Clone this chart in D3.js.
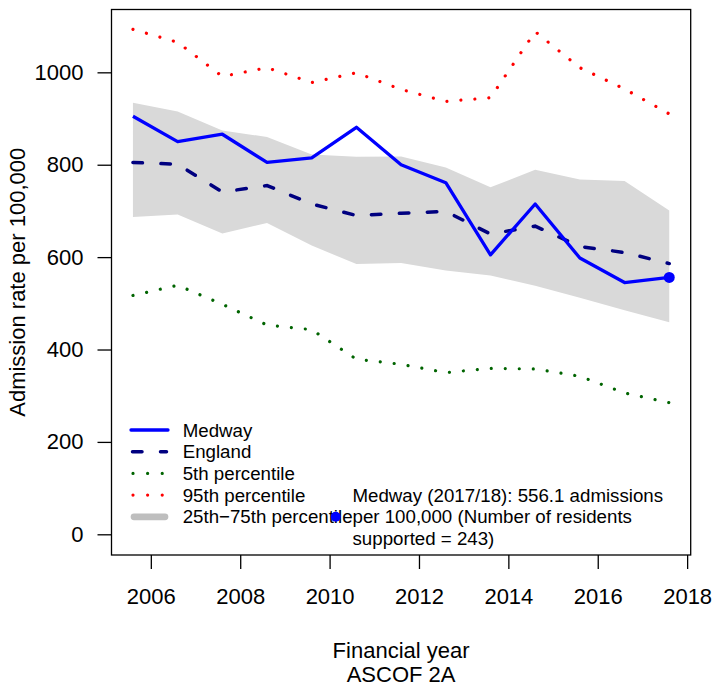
<!DOCTYPE html>
<html>
<head>
<meta charset="utf-8">
<script src="https://d3js.org/d3.v7.min.js"></script>
<style>
  body { margin: 0; background: #fff; }
  svg text { font-family: "Liberation Sans", Arial, sans-serif; fill: #000; }
</style>
</head>
<body>
<div id="chart"></div>
<script>
// financial years, plotted part way through the year
var years = [2005.6, 2006.6, 2007.6, 2008.6, 2009.6, 2010.6, 2011.6,
             2012.6, 2013.6, 2014.6, 2015.6, 2016.6, 2017.6];
var medway = [905, 850, 866, 805, 815, 881, 800, 761, 605, 715, 598, 545, 556.1];
var england = [805, 801, 741, 755, 715, 690, 695, 699, 650, 667, 623, 610, 586];
var p5 = [517, 539, 498, 453, 443, 379, 368, 350, 359, 358, 342, 306, 285];
var p95 = [1093, 1065, 991, 1010, 978, 999, 963, 937, 945, 1088, 1010, 964, 910];
var p25 = [687, 692, 651, 674, 625, 585, 587, 571, 560, 538, 512, 485, 459];
var p75 = [934, 915, 874, 860, 822, 817, 818, 794, 751, 789, 768, 765, 701];

var xTicks = [2006, 2008, 2010, 2012, 2014, 2016, 2018];
var yTicks = [0, 200, 400, 600, 800, 1000];

var legendLabels = ["Medway", "England", "5th percentile", "95th percentile", "25th\u221275th percentile"];
var noteLines = ["Medway (2017/18): 556.1 admissions",
                 "per 100,000 (Number of residents",
                 "supported = 243)"];

var width = 713, height = 690;
var plot = {left: 111.5, right: 690.7, top: 9.5, bottom: 555};

var svg = d3.select("#chart").append("svg")
    .attr("width", width)
    .attr("height", height);

var x = d3.scaleLinear()
    .domain([2005.12, 2018.08])
    .range([plot.left, plot.right]);

var y = d3.scaleLinear()
    .domain([-44.8, 1136])
    .range([plot.bottom, plot.top]);

function rows(vals) {
  return years.map(function(yr, i) { return {year: yr, v: vals[i]}; });
}

var line = d3.line()
    .x(function(d) { return x(d.year); })
    .y(function(d) { return y(d.v); });

// 25th-75th band
var band = d3.area()
    .x(function(d, i) { return x(years[i]); })
    .y0(function(d, i) { return y(p25[i]); })
    .y1(function(d, i) { return y(p75[i]); });

svg.append("path")
    .datum(years)
    .attr("d", band)
    .attr("fill", "#d9d9d9");

function dotted(vals, col) {
  svg.append("path")
      .datum(rows(vals))
      .attr("d", line)
      .attr("fill", "none")
      .attr("stroke", col)
      .attr("stroke-width", 3.2)
      .attr("stroke-linecap", "round")
      .attr("stroke-dasharray", "0.01,14");
}
dotted(p95, "#ff0000");
dotted(p5, "#006400");

svg.append("path")
    .datum(rows(england))
    .attr("d", line)
    .attr("fill", "none")
    .attr("stroke", "#000080")
    .attr("stroke-width", 3.5)
    .attr("stroke-linecap", "round")
    .attr("stroke-dasharray", "9.5,18.5");

svg.append("path")
    .datum(rows(medway))
    .attr("d", line)
    .attr("fill", "none")
    .attr("stroke", "#0000ff")
    .attr("stroke-width", 3.3)
    .attr("stroke-linejoin", "round");

var last = years.length - 1;
svg.append("circle")
    .attr("cx", x(years[last]))
    .attr("cy", y(medway[last]))
    .attr("r", 5.5)
    .attr("fill", "#0000ff");

// axes
var yAxis = svg.append("g")
    .attr("transform", "translate(" + plot.left + ",0)")
    .call(d3.axisLeft(y).tickValues(yTicks).tickFormat(d3.format("d")).tickSize(14).tickPadding(14));

var xAxis = svg.append("g")
    .attr("transform", "translate(0," + plot.bottom + ")")
    .call(d3.axisBottom(x).tickValues(xTicks).tickFormat(d3.format("d")).tickSize(14).tickPadding(19));

[yAxis, xAxis].forEach(function(g) {
  g.select(".domain").remove();
  g.attr("font-family", null).attr("font-size", null);
  g.selectAll("line").attr("stroke", "#000").attr("stroke-width", 1.3);
  g.selectAll("text").style("font-size", "22px");
});

svg.append("rect")
    .attr("x", plot.left)
    .attr("y", plot.top)
    .attr("width", plot.right - plot.left)
    .attr("height", plot.bottom - plot.top)
    .attr("fill", "none")
    .attr("stroke", "#000")
    .attr("stroke-width", 1.3);

// titles
svg.append("text")
    .attr("transform", "translate(25," + (plot.top + plot.bottom) / 2 + ") rotate(-90)")
    .attr("text-anchor", "middle")
    .style("font-size", "22px")
    .text("Admission rate per 100,000");

var mid = (plot.left + plot.right) / 2;
svg.append("text")
    .attr("x", mid).attr("y", 658.3)
    .attr("text-anchor", "middle")
    .style("font-size", "22px")
    .text("Financial year");
svg.append("text")
    .attr("x", mid).attr("y", 682.3)
    .attr("text-anchor", "middle")
    .style("font-size", "22px")
    .text("ASCOF 2A");

// legend
var lg = svg.append("g");
var lx0 = 131, lx1 = 168, ly = 430, lstep = 21.7;

legendLabels.forEach(function(lab, i) {
  var yy = ly + i * lstep;
  var seg = lg.append("line")
      .attr("x1", lx0).attr("x2", lx1)
      .attr("y1", yy).attr("y2", yy)
      .attr("stroke-linecap", "round");
  if (i == 0) seg.attr("stroke", "#0000ff").attr("stroke-width", 3.3);
  if (i == 1) seg.attr("stroke", "#000080").attr("stroke-width", 3.5).attr("stroke-dasharray", "9.5,18.5")
                 .attr("x1", lx0 + 1.5).attr("x2", lx1 - 1.5);
  if (i == 2) seg.attr("stroke", "#006400").attr("stroke-width", 3.2).attr("stroke-dasharray", "0.01,14.6")
                 .attr("x1", 133).attr("x2", 163);
  if (i == 3) seg.attr("stroke", "#ff0000").attr("stroke-width", 3.2).attr("stroke-dasharray", "0.01,14.6")
                 .attr("x1", 133).attr("x2", 163);
  if (i == 4) seg.attr("stroke", "#bebebe").attr("stroke-width", 6.7)
                 .attr("x1", lx0 + 3).attr("x2", lx1 - 3);
  lg.append("text")
      .attr("x", 182.7)
      .attr("y", yy)
      .attr("dy", "0.35em")
      .style("font-size", "18.7px")
      .text(lab);
});

// note for latest value
svg.append("circle")
    .attr("cx", 335.7)
    .attr("cy", 516.7)
    .attr("r", 5)
    .attr("fill", "#0000ff");

noteLines.forEach(function(t, i) {
  svg.append("text")
      .attr("x", 352.5)
      .attr("y", 501.5 + i * 21.7)
      .style("font-size", "18.7px")
      .text(t);
});
</script>
</body>
</html>
